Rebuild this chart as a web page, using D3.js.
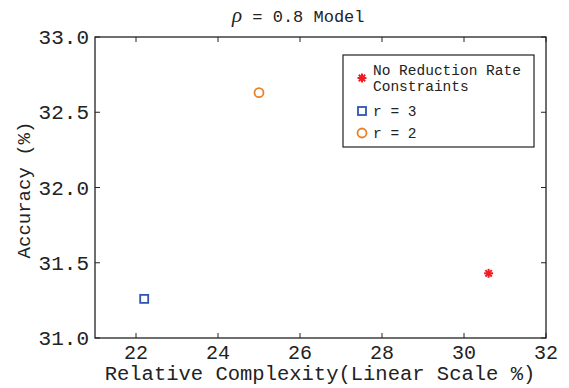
<!DOCTYPE html>
<html>
<head>
<script src="https://cdn.jsdelivr.net/npm/d3@7"></script>
<style>
body { margin: 0; background: #fff; }
text { font-family: "Liberation Mono", "DejaVu Sans Mono", monospace; fill: #222; }
</style>
</head>
<body>
<script>
// data
var seriesNames = ["No Reduction Rate|Constraints", "r = 3", "r = 2"];
var seriesX = [30.6, 22.2, 25.0];
var seriesY = [31.43, 31.26, 32.63];
var seriesColor = ["#ee1c24", "#2f55b0", "#e8822a"];
var seriesSymbol = ["star", "square", "circle"];
var xTicks = [22, 24, 26, 28, 30, 32];
var yTicks = [31.0, 31.5, 32.0, 32.5, 33.0];

var width = 569, height = 388;
var pLeft = 95, pRight = 546, pTop = 37, pBottom = 338;

var svg = d3.select("body").append("svg")
    .attr("width", width)
    .attr("height", height);

var x = d3.scaleLinear().domain([21, 32]).range([pLeft, pRight]);
var y = d3.scaleLinear().domain([31, 33]).range([pBottom, pTop]);

// frame
svg.append("rect")
    .attr("x", pLeft).attr("y", pTop)
    .attr("width", pRight - pLeft).attr("height", pBottom - pTop)
    .attr("fill", "none").attr("stroke", "#222").attr("stroke-width", 1.3);

// ticks (inward, all four sides)
var tk = 5;
xTicks.forEach(function(t) {
  svg.append("line").attr("x1", x(t)).attr("x2", x(t)).attr("y1", pBottom).attr("y2", pBottom - tk).attr("stroke", "#222");
  svg.append("line").attr("x1", x(t)).attr("x2", x(t)).attr("y1", pTop).attr("y2", pTop + tk).attr("stroke", "#222");
  svg.append("text").attr("x", x(t)).attr("y", 359)
    .attr("text-anchor", "middle").attr("font-size", 20).text(t);
});
yTicks.forEach(function(t) {
  svg.append("line").attr("x1", pLeft).attr("x2", pLeft + tk).attr("y1", y(t)).attr("y2", y(t)).attr("stroke", "#222");
  svg.append("line").attr("x1", pRight).attr("x2", pRight - tk).attr("y1", y(t)).attr("y2", y(t)).attr("stroke", "#222");
  svg.append("text").attr("x", 89).attr("y", y(t) + 7)
    .attr("text-anchor", "end").attr("font-size", 21).text(d3.format(".1f")(t));
});

// labels
svg.append("text").attr("x", 320).attr("y", 380)
  .attr("text-anchor", "middle").attr("font-size", 20.5)
  .text("Relative Complexity(Linear Scale %)");
svg.append("text").attr("transform", "translate(30,190) rotate(-90)")
  .attr("text-anchor", "middle").attr("font-size", 19)
  .text("Accuracy (%)");

var title = svg.append("text").attr("x", 232).attr("y", 22).attr("font-size", 17);
title.append("tspan").attr("font-family", "Liberation Serif").attr("font-style", "italic").attr("font-size", 21).text("ρ");
title.append("tspan").text(" = 0.8 Model");

function drawMarker(g, kind, cx, cy, color) {
  if (kind === "circle") {
    g.append("circle").attr("cx", cx).attr("cy", cy).attr("r", 4.5)
      .attr("fill", "none").attr("stroke", color).attr("stroke-width", 1.8);
  } else if (kind === "square") {
    g.append("rect").attr("x", cx - 4).attr("y", cy - 4).attr("width", 8).attr("height", 8)
      .attr("fill", "none").attr("stroke", color).attr("stroke-width", 1.8);
  } else {
    for (var a = 0; a < 4; a++) {
      var ang = a * Math.PI / 4;
      g.append("line")
        .attr("x1", cx - 4.5 * Math.cos(ang)).attr("y1", cy - 4.5 * Math.sin(ang))
        .attr("x2", cx + 4.5 * Math.cos(ang)).attr("y2", cy + 4.5 * Math.sin(ang))
        .attr("stroke", color).attr("stroke-width", 2);
    }
  }
}

var pts = svg.append("g");
seriesX.forEach(function(v, i) {
  drawMarker(pts, seriesSymbol[i], x(v), y(seriesY[i]), seriesColor[i]);
});

// legend
var lg = svg.append("g");
lg.append("rect").attr("x", 343).attr("y", 55).attr("width", 191).attr("height", 92)
  .attr("fill", "#fff").attr("stroke", "#222").attr("stroke-width", 1.2);
var legendY = [78, 111, 133];
seriesNames.forEach(function(name, i) {
  drawMarker(lg, seriesSymbol[i], 362, legendY[i], seriesColor[i]);
  var parts = name.split("|");
  parts.forEach(function(p, j) {
    lg.append("text").attr("x", 373).attr("y", legendY[i] + (parts.length > 1 ? -3 + j * 16 : 5))
      .attr("font-size", 14.5).text(p);
  });
});
</script>
</body>
</html>
